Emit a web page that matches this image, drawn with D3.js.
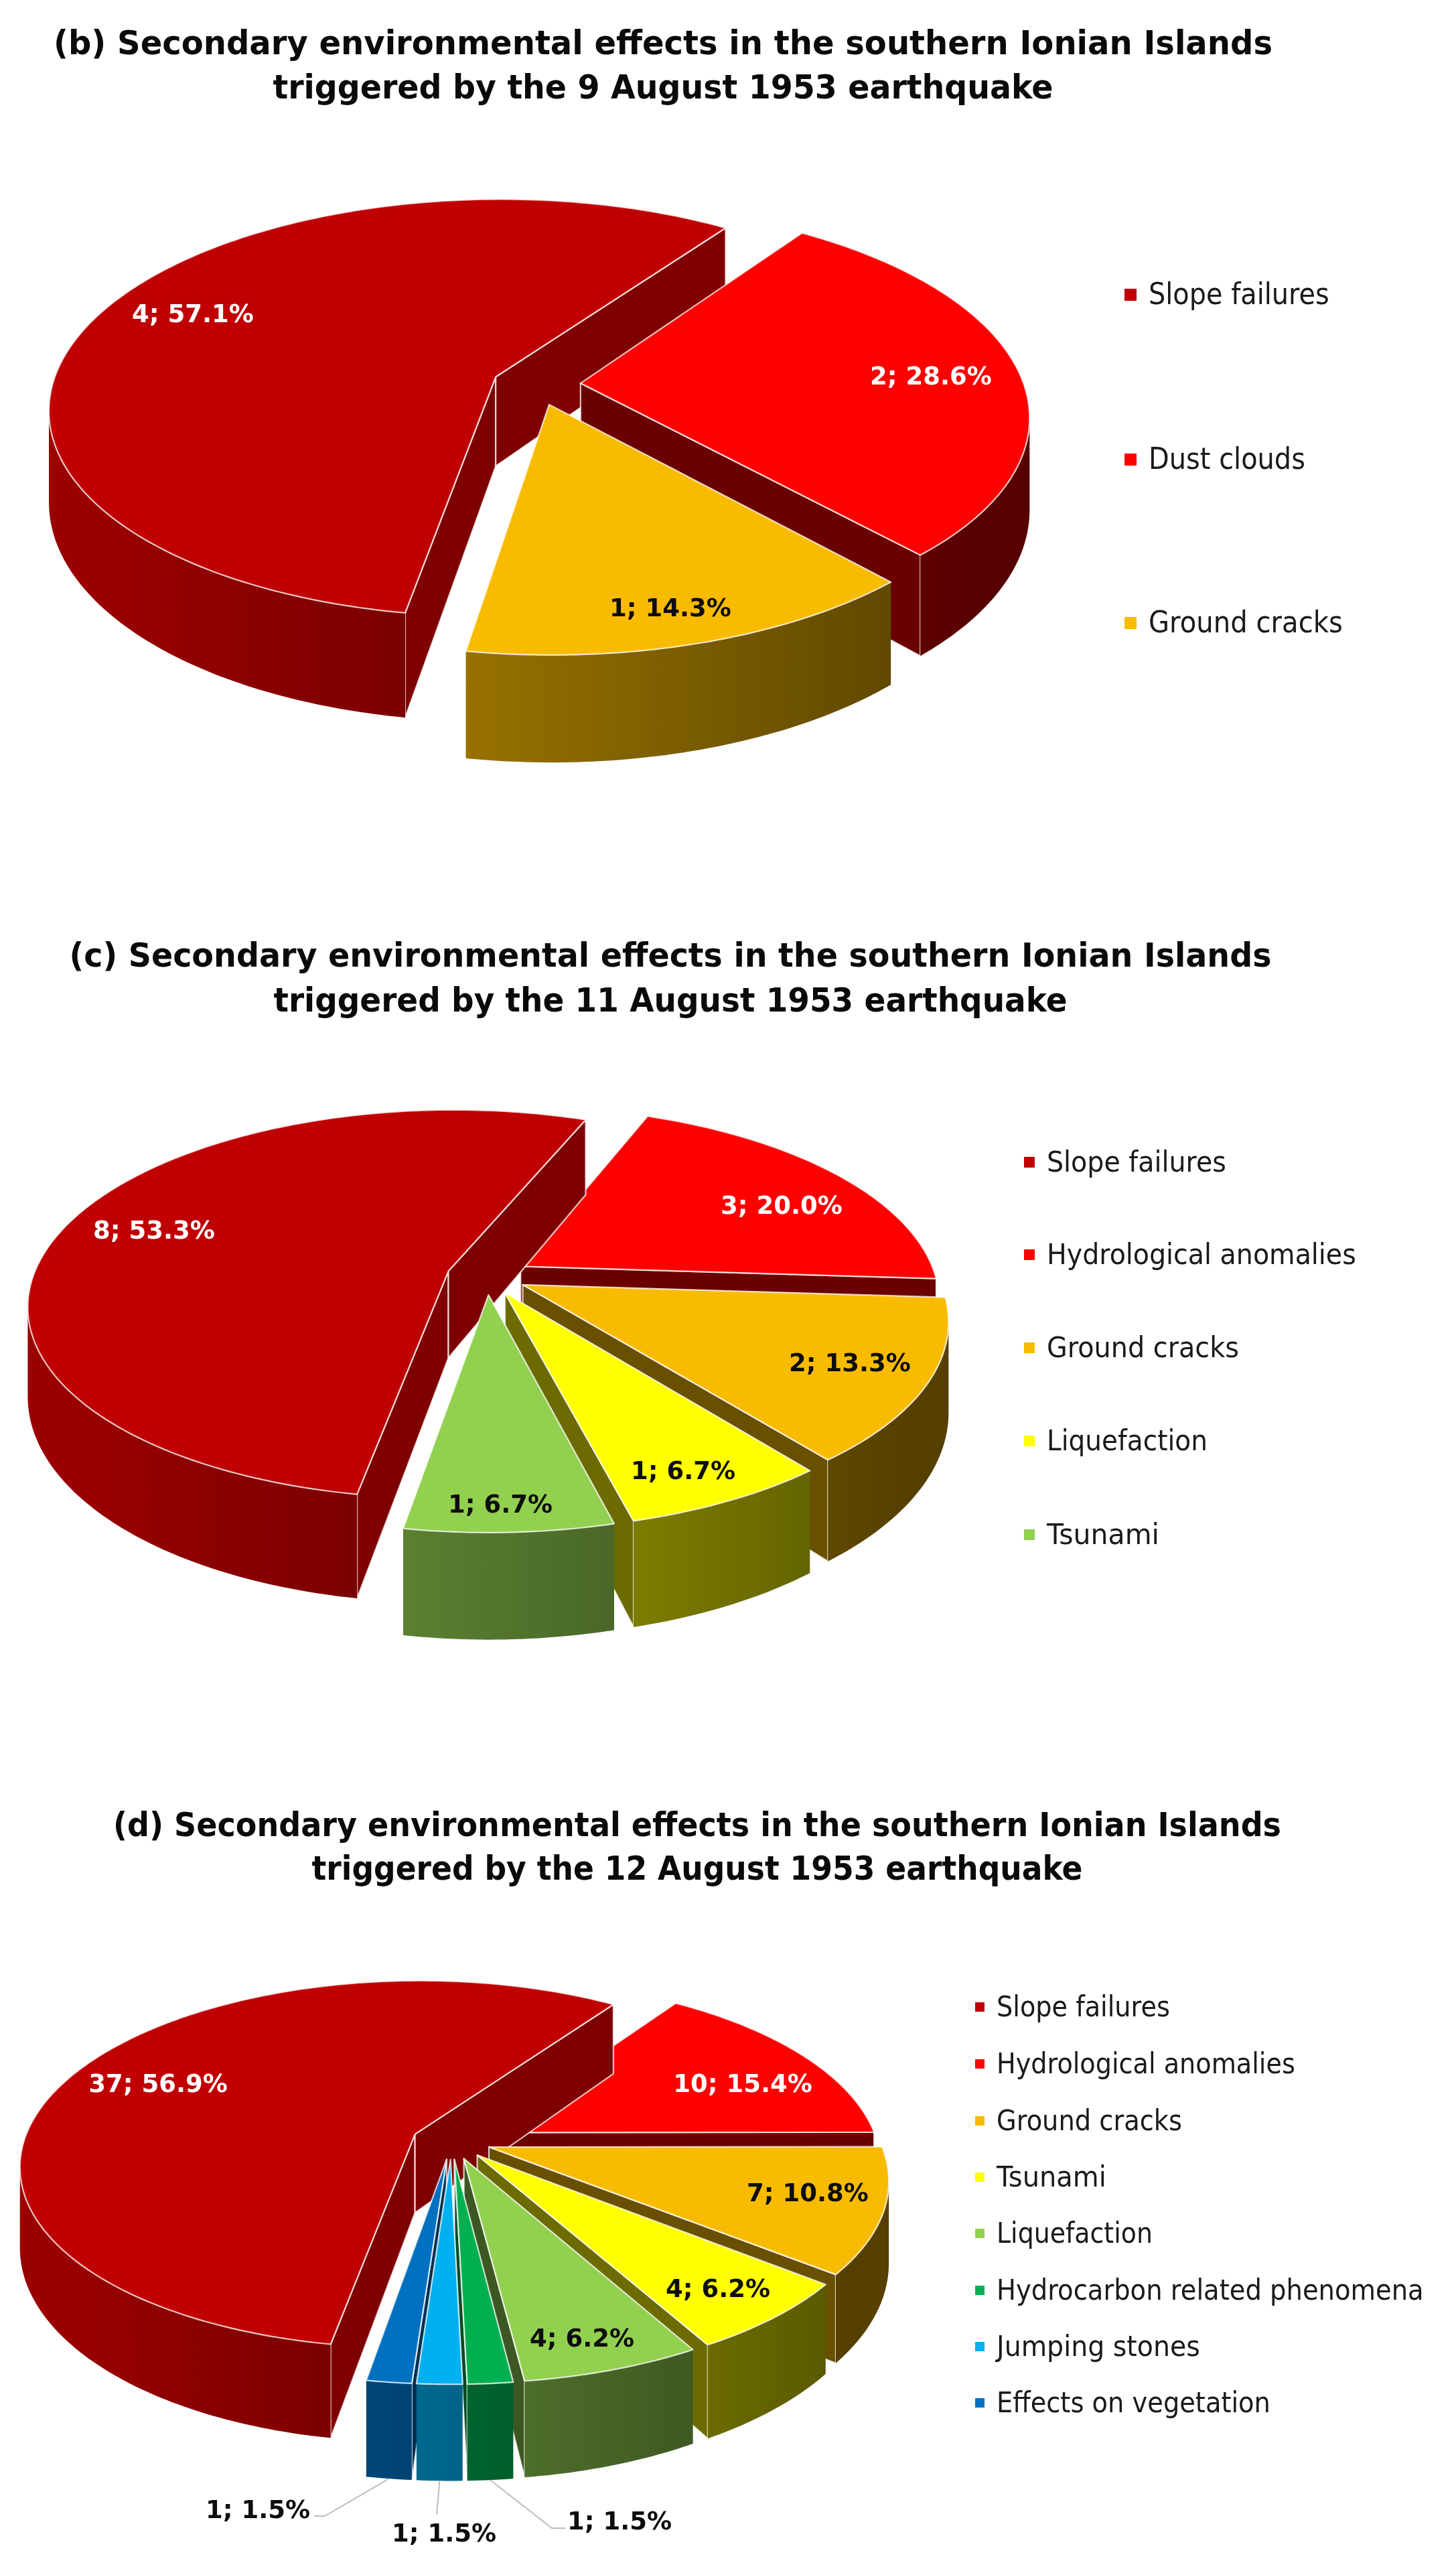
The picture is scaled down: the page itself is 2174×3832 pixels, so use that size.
<!DOCTYPE html>
<html><head><meta charset="utf-8">
<script src="https://cdnjs.cloudflare.com/ajax/libs/d3/7.8.5/d3.min.js"></script>
<style>html,body{margin:0;padding:0;background:#fff}svg{display:block;filter:blur(0.7px)}text{font-family:"DejaVu Sans","Noto Sans",sans-serif}</style>
</head><body><svg id="c" width="2174" height="3832"></svg>
<script>
// ---- data ----
const titlesB = ["(b) Secondary environmental effects in the southern Ionian Islands","triggered by the 9 August 1953 earthquake"];
const titlesC = ["(c) Secondary environmental effects in the southern Ionian Islands","triggered by the 11 August 1953 earthquake"];
const titlesD = ["(d) Secondary environmental effects in the southern Ionian Islands","triggered by the 12 August 1953 earthquake"];
const categoriesB = ["Slope failures","Dust clouds","Ground cracks"];
const valuesB = [4,2,1];
const categoriesC = ["Slope failures","Hydrological anomalies","Ground cracks","Liquefaction","Tsunami"];
const valuesC = [8,3,2,1,1];
const categoriesD = ["Slope failures","Hydrological anomalies","Ground cracks","Tsunami","Liquefaction","Hydrocarbon related phenomena","Jumping stones","Effects on vegetation"];
const valuesD = [37,10,7,4,4,1,1,1];
const palette = ["#c00000","#ff0000","#f9bb00","#ffff00","#92d050","#00b050","#00b0f0","#0070c0"];

// ---- layout (no values here) ----
const layouts = [
 {id:"b",titles:titlesB,cats:categoriesB,vals:valuesB,
  cx:801,cy:574,R:662,ry:308,p:0.15,depth:134,e:66,rot:189.3,
  titleX:990,titleY:[81,147],titleW:[1820,1165],
  legX:1679,legY:[440,686,930],legW:[270,234,290],legM:18,legF:44,
  labels:[[288,468],[1390,561],[1001,907]],dark:[0,0,1]},
 {id:"c",titles:titlesC,cats:categoriesC,vals:valuesC,
  cx:727,cy:1905,R:620,ry:284,p:0.17,depth:130,e:60,rot:189.7,
  titleX:1001,titleY:[1443,1510],titleW:[1795,1185],
  legX:1529,legY:[1735,1873,2012,2151,2291],legW:[268,462,287,240,168],legM:16,legF:43,
  labels:[[230,1836],[1167,1799],[1269,2034],[1020,2195],[747,2245]],dark:[0,0,1,1,1]},
 {id:"d",titles:titlesD,cats:categoriesD,vals:valuesD,
  cx:674,cy:3196,R:584,ry:270,p:0.165,depth:118,e:59,rot:189.6,
  titleX:1041,titleY:[2741,2806],titleW:[1744,1151],
  legX:1456,legY:[2996,3081,3166,3250,3334,3419,3503,3587],legW:[259,446,277,164,233,638,304,409],legM:14,legF:42,
  labels:[[236,3110],[1109,3110],[1206,3273],[1072,3416],[869,3490],[925,3763],[663,3781],[385,3746]],dark:[0,0,1,1,1,1,1,1],
  leaders:{5:[[824,3774],[844,3774]],6:[[652,3754]],7:[[485,3756],[469,3756]]}}
];

const svg = d3.select("#c");
const defs = svg.append("defs");
const fmt = d3.format(".1%");
const lineGen = d3.line();
const rad = Math.PI/180;
const WALL_L = 0.80, WALL_R = 0.34;

function scaleColor(c,f){const q=d3.rgb(c);return d3.rgb(q.r*f,q.g*f,q.b*f).formatHex();}

layouts.forEach(L=>{
  const g = svg.append("g").attr("id","chart-"+L.id);
  const total = d3.sum(L.vals);
  const pie = d3.pie().sort(null).startAngle(L.rot*rad).endAngle(L.rot*rad+2*Math.PI);
  const arcs = pie(L.vals);
  const project = (u,v,z)=>{const w=1/(1-L.p*v);return [L.cx+L.R*u*w, L.cy+L.ry*v*w+z*L.depth*w];};
  const slices = arcs.map((a,i)=>{
    const mid=(a.startAngle+a.endAngle)/2, ex=L.e/L.R;
    const ou=ex*Math.sin(mid), ov=-ex*Math.cos(mid);
    const at=(ang,r,z)=>project(ou+r*Math.sin(ang),ov-r*Math.cos(ang),z);
    return {a,i,mid,ou,ov,at,color:palette[i],cat:L.cats[i]};
  });
  slices.forEach(s=>{
    const gr=defs.append("linearGradient").attr("id",`w-${L.id}-${s.i}`).attr("gradientUnits","userSpaceOnUse")
      .attr("x1",L.cx-L.R).attr("x2",L.cx+L.R).attr("y1",0).attr("y2",0);
    gr.append("stop").attr("offset",0).attr("stop-color",scaleColor(s.color,WALL_L));
    gr.append("stop").attr("offset",1).attr("stop-color",scaleColor(s.color,WALL_R));
  });
  // back-to-front
  const painter = slices.slice().sort((x,y)=>(-Math.cos(x.mid))-(-Math.cos(y.mid)));
  painter.forEach(s=>{
    const sg=g.append("g").attr("class","slice");
    const n=Math.max(8,Math.ceil((s.a.endAngle-s.a.startAngle)/rad));
    const angs=d3.range(n+1).map(k=>s.a.startAngle+(s.a.endAngle-s.a.startAngle)*k/n);
    const radial=(ang,normal)=>{
      if(-Math.cos(normal)<=0) return;
      const pts=[s.at(ang,0,0),s.at(ang,1,0),s.at(ang,1,1),s.at(ang,0,1)];
      sg.append("path").attr("d",lineGen(pts)+"Z")
        .attr("fill",scaleColor(s.color,s.i===0?0.66:0.42))
        .attr("stroke","#fff").attr("stroke-opacity",0.75).attr("stroke-width",2.2).attr("stroke-linejoin","round");
    };
    radial(s.a.startAngle,s.a.startAngle-Math.PI/2);
    radial(s.a.endAngle,s.a.endAngle+Math.PI/2);
    const front=angs.filter((ang,k)=>{
      const me=s.at(ang,1,0)[0];
      const nxt=k<n?s.at(angs[k+1],1,0)[0]:null, prv=k>0?s.at(angs[k-1],1,0)[0]:null;
      return (nxt!==null&&nxt<me)||(prv!==null&&me<prv);
    });
    if(front.length>1){
      const pts=front.map(x=>s.at(x,1,0)).concat(front.slice().reverse().map(x=>s.at(x,1,1)));
      sg.append("path").attr("d",lineGen(pts)+"Z").attr("fill",`url(#w-${L.id}-${s.i})`);
    }
    const top=[s.at(0,0,0)].concat(angs.map(x=>s.at(x,1,0)));
    sg.append("path").attr("d",lineGen(top)+"Z").attr("fill",s.color)
      .attr("stroke","#fff").attr("stroke-opacity",0.75).attr("stroke-width",2.2).attr("stroke-linejoin","round");
  });
  if(L.leaders){
    Object.entries(L.leaders).forEach(([k,pts])=>{
      const s=slices[+k];
      const start=s.at(s.mid,1,1);
      g.append("path").attr("d",lineGen([start].concat(pts))).attr("fill","none")
        .attr("stroke","#bdbdbd").attr("stroke-width",2);
    });
  }
  g.append("g").selectAll("text").data(slices).join("text")
    .attr("x",(s,i)=>L.labels[i][0]).attr("y",(s,i)=>L.labels[i][1]+13)
    .attr("text-anchor","middle").attr("font-size",37).attr("font-weight",700)
    .attr("fill",(s,i)=>L.dark[i]?"#0d0d0d":"#fff")
    .text(s=>`${s.a.value}; ${fmt(s.a.value/total)}`);
  g.append("g").selectAll("text").data(L.titles).join("text")
    .attr("x",L.titleX).attr("y",(t,i)=>L.titleY[i]).attr("text-anchor","middle")
    .attr("font-size",50).attr("font-weight",700).attr("fill","#0a0a0a")
    .attr("textLength",(t,i)=>L.titleW[i]).attr("lengthAdjust","spacingAndGlyphs").text(t=>t);
  const lg=g.append("g").selectAll("g").data(L.cats).join("g")
    .attr("transform",(c,i)=>`translate(${L.legX},${L.legY[i]})`);
  lg.append("rect").attr("x",0).attr("y",-L.legM/2).attr("width",L.legM).attr("height",L.legM).attr("fill",(c,i)=>palette[i]);
  lg.append("text").attr("font-size",L.legF).attr("fill","#1a1a1a").text(c=>c)
    .attr("transform",function(c,i){
      const f=L.legW[i]/this.getComputedTextLength();
      return `translate(${L.legM+18},14) scale(${f},1)`;
    });
});
</script></body></html>
